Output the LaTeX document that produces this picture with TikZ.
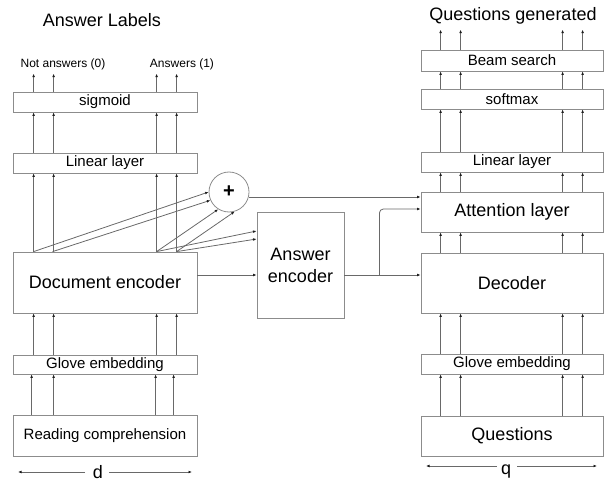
\documentclass[tikz,border=0pt]{standalone}
\usepackage{fontspec}
\setmainfont{Liberation Sans}
\usetikzlibrary{arrows.meta}
\definecolor{boxgray}{RGB}{140,140,140}
\definecolor{linegray}{RGB}{105,105,105}
\definecolor{tipc}{RGB}{30,30,30}
\begin{document}
\begin{tikzpicture}[x=1pt,y=-1pt,
  box/.style={draw=boxgray, line width=0.8pt, inner sep=0pt, anchor=center, text=black},
  arr/.style={draw=linegray, line width=0.8pt, -{Latex[length=3.5pt,width=2.8pt,color=tipc]}},
  bigt/.style={font=\fontsize{18}{22}\selectfont},
  midt/.style={font=\fontsize{15}{18}\selectfont},
  smallt/.style={font=\fontsize{12}{14}\selectfont}]
\useasboundingbox (0,0) rectangle (605,481);

% titles and labels
\node[bigt,anchor=base] (tl) at (102,27) {Answer Labels};
\node[bigt,anchor=base] (tr) at (513,21) {Questions generated};
\node[smallt,anchor=base] (na) at (63,68) {Not answers (0)};
\node[smallt,anchor=base] (an) at (182,68) {Answers (1)};

% left stack
\node[box,midt,minimum width=184pt,minimum height=20pt] (sig) at (105,102) {sigmoid};
\node[box,midt,minimum width=184pt,minimum height=20pt] (linL) at (105,163) {Linear layer};
\node[box,bigt,minimum width=184pt,minimum height=61pt] (doc) at (105,282.5) {Document encoder};
\node[box,midt,minimum width=184pt,minimum height=19pt] (gloL) at (105,364.5) {Glove embedding};
\node[box,midt,minimum width=184pt,minimum height=41pt] (read) at (105,435.5) {Reading comprehension};

% right stack
\node[box,midt,minimum width=182pt,minimum height=21pt] (beam) at (512,60.5) {Beam search};
\node[box,midt,minimum width=182pt,minimum height=20pt] (soft) at (512,99) {softmax};
\node[box,midt,minimum width=182pt,minimum height=20pt] (linR) at (512,162) {Linear layer};
\node[box,bigt,minimum width=182pt,minimum height=40pt] (att) at (512,212) {Attention layer};
\node[box,bigt,minimum width=182pt,minimum height=60pt] (dec) at (512,283) {Decoder};
\node[box,midt,minimum width=182pt,minimum height=20pt] (gloR) at (512,364) {Glove embedding};
\node[box,bigt,minimum width=182pt,minimum height=40pt] (ques) at (512,436) {Questions};

% middle
\node[box,bigt,minimum width=87pt,minimum height=106pt,align=center] (ans) at (300.5,265) {Answer\\encoder};
\node[circle,draw=boxgray,line width=0.8pt,minimum size=40pt,inner sep=0pt,
      font=\fontsize{20}{20}\selectfont\bfseries] (plus) at (229,192) {+};

% left vertical arrows
\foreach \o in {21,41,144,164} {
  \draw[arr] ([xshift=\o pt]sig.north west) -- ++(0,-18);
  \draw[arr] ([xshift=\o pt]linL.north west) -- ([xshift=\o pt]sig.south west);
  \draw[arr] ([xshift=\o pt]doc.north west) -- ([xshift=\o pt]linL.south west);
  \draw[arr] ([xshift=\o pt]gloL.north west) -- ([xshift=\o pt]doc.south west);
}
\foreach \o in {19,41,143,161} {
  \draw[arr] ([xshift=\o pt]read.north west) -- ([xshift=\o pt]gloL.south west);
}

% right vertical arrows
\foreach \o in {20,40,142,162} {
  \draw[arr] ([xshift=\o pt]beam.north west) -- ++(0,-20);
  \draw[arr] ([xshift=\o pt]soft.north west) -- ([xshift=\o pt]beam.south west);
  \draw[arr] ([xshift=\o pt]linR.north west) -- ([xshift=\o pt]soft.south west);
  \draw[arr] ([xshift=\o pt]att.north west) -- ([xshift=\o pt]linR.south west);
  \draw[arr] ([xshift=\o pt]dec.north west) -- ([xshift=\o pt]att.south west);
  \draw[arr] ([xshift=\o pt]gloR.north west) -- ([xshift=\o pt]dec.south west);
  \draw[arr] ([xshift=\o pt]ques.north west) -- ([xshift=\o pt]gloR.south west);
}

% fan from document encoder
\draw[arr] ([xshift=21pt]doc.north west) -- (plus.west);
\draw[arr] ([xshift=40pt]doc.north west) -- (plus.204);
\draw[arr] ([xshift=144pt]doc.north west) -- (plus.238);
\draw[arr] ([xshift=164pt]doc.north west) -- (plus.286);
\draw[arr] ([xshift=144pt]doc.north west) -- ([yshift=34pt]ans.west);
\draw[arr] ([xshift=164pt]doc.north west) -- ([yshift=26pt]ans.west);

% horizontal links
\coordinate (row) at ([yshift=-10pt]ans.west);
\draw[arr] (doc.east |- row) -- (row);
\coordinate (ae) at (ans.east |- row);
\draw[arr] (ae) -- (dec.west |- row);
\coordinate (brk) at ([xshift=35pt]ae);
\draw[arr,rounded corners=4pt] (brk) |- ([yshift=3pt]att.west);
\coordinate (pa) at ([yshift=15pt]att.west);
\draw[arr] (plus.east |- pa) -- (pa);

% dimension arrows
\node[bigt,anchor=base,inner sep=0pt] (dlab) at (98,478.5) {d};
\coordinate (dA) at (85,472); \coordinate (dB) at (18,472);
\coordinate (dC) at (109,472); \coordinate (dD) at (192,472);
\draw[arr] (dA) -- (dB);
\draw[arr] (dC) -- (dD);
\node[bigt,anchor=base] (qlab) at (506,474) {q};
\coordinate (qA) at (497,466); \coordinate (qB) at (426,466);
\coordinate (qC) at (517,466); \coordinate (qD) at (597,466);
\draw[arr] (qA) -- (qB);
\draw[arr] (qC) -- (qD);
\end{tikzpicture}
\end{document}
